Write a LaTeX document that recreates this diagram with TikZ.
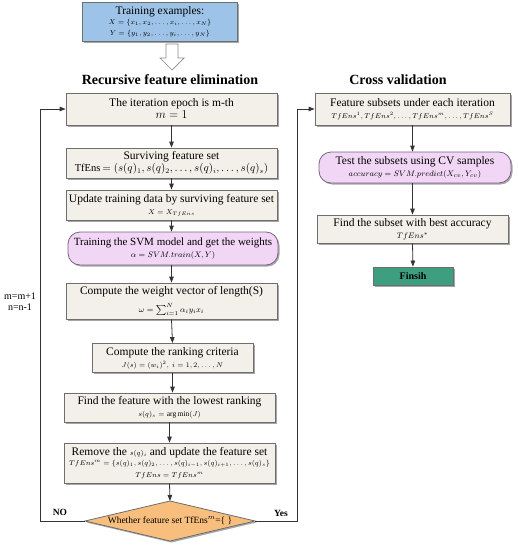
\documentclass[tikz,border=0pt]{standalone}
\usepackage{fontspec}
\setmainfont{Liberation Serif}
\usetikzlibrary{shapes.geometric,shadows,arrows.meta}
\definecolor{boxfill}{RGB}{242,240,233}
\definecolor{boxline}{RGB}{110,110,110}
\definecolor{pinkfill}{RGB}{242,214,246}
\definecolor{pinkline}{RGB}{120,100,130}
\definecolor{bluefill}{RGB}{157,196,232}
\definecolor{orangefill}{RGB}{248,190,125}
\definecolor{greenfill}{RGB}{62,158,128}
\tikzset{
  shd/.style={drop shadow={shadow xshift=1.5pt,shadow yshift=-1.5pt,fill=black,opacity=0.35}},
  pbox/.style={draw=boxline,line width=0.8pt,fill=boxfill,shd,align=center,inner sep=1pt,font=\fontsize{11.5}{12}\selectfont},
  rbox/.style={pbox,draw=pinkline,fill=pinkfill,rounded corners=12pt},
  conn/.style={-{Triangle[length=6pt,width=4.5pt]},line width=0.8pt,black!80},
  ttl/.style={font=\fontsize{14}{15}\bfseries\selectfont}
}
\newcommand{\smm}[1]{{\fontsize{7.5}{8.5}\selectfont$#1$}}
\newcommand{\mdm}[1]{{\fontsize{8.5}{9.5}\selectfont$#1$}}
\begin{document}
\begin{tikzpicture}[x=1pt,y=-1pt]
\useasboundingbox (0,0) rectangle (518,550);
% top
\node[pbox,fill=bluefill,draw=boxline,minimum width=155pt,minimum height=39pt] (train) at (160,22)
  {Training examples:\\[-1.5pt]\smm{X=\{x_1,x_2,\dots,x_i,\dots,x_N\}}\\[-1pt]\smm{Y=\{y_1,y_2,\dots,y_i,\dots,y_N\}}};
\draw[draw=boxline!80,fill=white,line width=0.7pt] (166,44) -- (178,44) -- (178,58) -- (184,58) -- (172,70) -- (160,58) -- (166,58) -- cycle;
\node[ttl] (t1) at (170,80) {Recursive feature elimination};
\node[ttl] (t2) at (398,80) {Cross validation};
% left column
\node[pbox,minimum width=211pt,minimum height=32pt] (b1) at (171.5,109) {The iteration epoch is m-th\\$m=1$};
\node[pbox,minimum width=211pt,minimum height=30pt] (b2) at (171.5,163) {Surviving feature set\\{\fontsize{10.5}{11}\selectfont TfEns$\,=\big(s(q)_1,s(q)_2,\dots,s(q)_i,\dots,s(q)_s\big)$}};
\node[pbox,minimum width=211pt,minimum height=30pt] (b3) at (171.5,205) {Update training data by surviving feature set\\\smm{X=X_{TfEns}}};
\node[rbox,minimum width=210pt,minimum height=33pt,font=\fontsize{11}{11.5}\selectfont] (b4) at (173,248.5) {Training the SVM model and get the weights\\[1pt]\mdm{\alpha=SVM.train(X,Y)}};
\node[pbox,minimum width=211pt,minimum height=36pt] (b5) at (171.5,301) {Compute the weight vector of length(S)\\[6pt]{\fontsize{8}{9}\selectfont$\omega=\sum_{i=1}^{N}\alpha_i y_i x_i$}};
\node[pbox,minimum width=161pt,minimum height=29pt] (b6) at (172.5,358) {Compute the ranking criteria\\\smm{J(s)=(w_i)^2,\ i=1,2,\dots,N}};
\node[pbox,minimum width=211pt,minimum height=29pt] (b7) at (169.5,407.5) {Find the feature with the lowest ranking\\\smm{s(q)_s=\arg\min(J)}};
\node[pbox,minimum width=211pt,minimum height=40pt] (b8) at (169.5,463) {Remove the \smm{s(q)_i} and update the feature set\\[-1.5pt]\smm{TfEns^m=\{s(q)_1,s(q)_2,\dots,s(q)_{i-1},s(q)_{i+1},\dots,s(q)_s\}}\\[0pt]\smm{TfEns=TfEns^m}};
% decision diamond
\coordinate (dn) at (170,501);
\coordinate (de) at (255,521);
\coordinate (ds) at (170,541);
\coordinate (dw) at (85,521);
\draw[draw=boxline,line width=0.8pt,fill=orangefill,shd] (dn) -- (de) -- (ds) -- (dw) -- cycle;
\node[font=\fontsize{9.5}{10}\selectfont,inner sep=0pt] (dia) at (170,521) {Whether feature set TfEns$^{m}$=\{ \}};
% right column
\node[pbox,minimum width=195pt,minimum height=32pt] (r1) at (412.5,109) {Feature subsets under each iteration\\\smm{TfEns^1, TfEns^2,\dots,TfEns^m,\dots,TfEns^S}};
\node[rbox,minimum width=192pt,minimum height=31pt] (r2) at (415,167.5) {Test the subsets using CV samples\\\mdm{accuracy=SVM.predict(X_{cv},Y_{cv})}};
\node[pbox,minimum width=191pt,minimum height=28pt] (r3) at (412.5,229) {Find the subset with best accuracy\\\mdm{TfEns^{*}}};
\node[pbox,fill=greenfill,minimum width=80pt,minimum height=18pt,font=\fontsize{10}{11}\bfseries\selectfont] (fin) at (413,276) {Finsih};
% connectors
\draw[conn] (b1.south) -- (b2.north);
\draw[conn] (b2.south) -- (b3.north);
\draw[conn] (b3.south) -- (b3.south|-b4.north);
\draw[conn] (b3.south|-b4.south) -- (b3.south|-b5.north);
\draw[conn] (b5.south) -- (b6.north);
\draw[conn] (b6.south) -- (b6.south|-b7.north);
\draw[conn] (b7.south) -- (b8.north);
\draw[conn] (b8.south) -- (dn);
\coordinate (lc) at (40,521);
\coordinate (rc) at (297,521);
\draw[conn] (dw) -- (lc) |- (b1.west);
\draw[conn] (de) -- (rc) |- (r1.west);
\draw[conn] (r1.south) -- (r1.south|-r2.north);
\draw[conn] (r1.south|-r2.south) -- (r3.north);
\draw[conn] (r3.south) -- (fin.north);
% labels
\node[font=\fontsize{9.5}{10}\bfseries\selectfont] (no) at (60,512) {NO};
\node[font=\fontsize{9.5}{10}\bfseries\selectfont] (yes) at (281,513) {Yes};
\node[font=\fontsize{10}{11}\selectfont,align=center] (mm) at (20,302) {m=m+1\\n=n-1};
\end{tikzpicture}
\end{document}
